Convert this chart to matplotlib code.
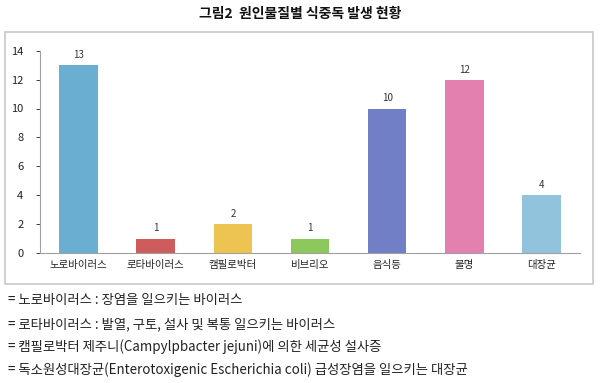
import matplotlib
matplotlib.use("Agg")
import matplotlib.pyplot as plt
from matplotlib.patches import Rectangle

plt.rcParams['font.family'] = ['Noto Sans CJK KR', 'DejaVu Sans']

categories = ['노로바이러스', '로타바이러스', '캠필로박터', '비브리오', '음식등', '불명', '대장균']
values = [13, 1, 2, 1, 10, 12, 4]
colors = ['#6AAFD2', '#CF5C5C', '#EDC452', '#8DC85C', '#717FC6', '#E480AF', '#92C3DD']
yticks = [0, 2, 4, 6, 8, 10, 12, 14]
title = '그림2  원인물질별 식중독 발생 현황'
notes = [
    '= 노로바이러스 : 장염을 일으키는 바이러스',
    '= 로타바이러스 : 발열, 구토, 설사 및 복통 일으키는 바이러스',
    '= 캠필로박터 제주니(Campylpbacter jejuni)에 의한 세균성 설사증',
    '= 독소원성대장균(Enterotoxigenic Escherichia coli) 급성장염을 일으키는 대장균',
]

fig = plt.figure(figsize=(6, 3.83), dpi=100)
W, H = 600, 383

# chart border
fig.patches.append(Rectangle((5 / W, 1 - 284 / H), 588 / W, 252 / H,
                             transform=fig.transFigure, fill=False,
                             edgecolor='#C8C8C8', linewidth=1.2))

ax = fig.add_axes([40 / W, 1 - 253 / H, 540 / W, (253 - 50.7) / H])
x = range(len(categories))
ax.bar(x, values, width=0.5, color=colors)
for i, v in enumerate(values):
    ax.text(i, v + 0.35, str(v), ha='center', va='bottom', fontsize=7, color='#333333')

ax.set_xlim(-0.5, len(categories) - 0.5)
ax.set_ylim(0, 14)
ax.set_yticks(yticks)
ax.set_xticks(list(x))
ax.set_xticklabels(categories, fontsize=7.5, color='#222222')
ax.tick_params(axis='y', labelsize=8, colors='#222222', length=3, width=0.6, direction='out', pad=9)
ax.tick_params(axis='x', length=0, pad=5)
for s in ['top', 'right']:
    ax.spines[s].set_visible(False)
ax.spines['left'].set_color('#A0A0A0')
ax.spines['bottom'].set_color('#A0A0A0')
ax.spines['left'].set_linewidth(0.8)
ax.spines['bottom'].set_linewidth(0.8)

fig.text(0.5, 1 - 14 / H, title, ha='center', va='center', fontsize=10, fontweight='bold', color='#111111')

ys = [300, 324, 347, 370]
for t, yy in zip(notes, ys):
    fig.text(8 / W, 1 - yy / H, t, ha='left', va='center', fontsize=9.6, color='#222222')

fig.savefig('out.png', dpi=100)
